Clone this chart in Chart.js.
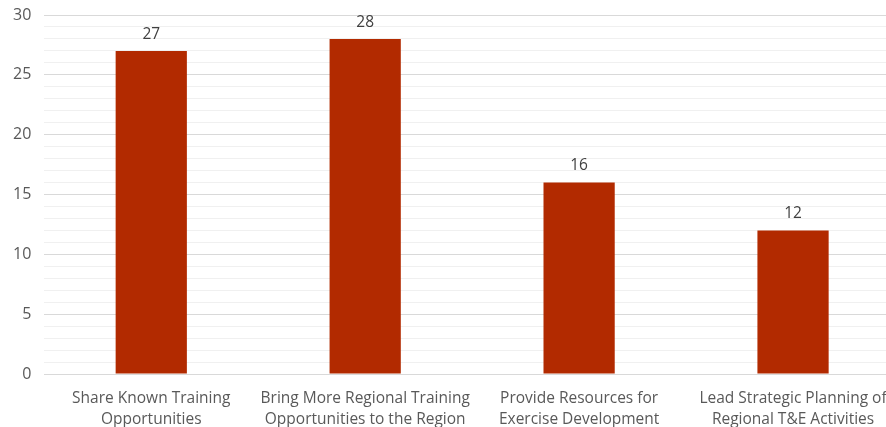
<!DOCTYPE html>
<html>
<head>
<meta charset="utf-8">
<script src="https://cdn.jsdelivr.net/npm/chart.js@4.4.0/dist/chart.umd.min.js"></script>
<style>
  html, body { margin: 0; padding: 0; background: #fff; overflow: hidden; }
  #wrap { position: relative; width: 900px; height: 427px; }
</style>
</head>
<body>
<div id="wrap"><canvas id="chart"></canvas></div>
<script>
// categories (wrapped the way the original wraps them)
const categories = [
  ["Share Known Training", "Opportunities"],
  ["Bring More Regional Training", "Opportunities to the Region"],
  ["Provide Resources for", "Exercise Development"],
  ["Lead Strategic Planning of", "Regional T&E Activities"]
];
const counts = [27, 28, 16, 12];
const yTicks = [0, 5, 10, 15, 20, 25, 30];

const textColor = "#595959";
const barColor = "#b22a00";

// value labels above each bar
const valueLabels = {
  id: "valueLabels",
  afterDatasetsDraw(chart) {
    const ctx = chart.ctx;
    const meta = chart.getDatasetMeta(0);
    ctx.save();
    ctx.font = "15.5px 'Open Sans', sans-serif";
    ctx.fillStyle = "#404040";
    ctx.textAlign = "center";
    ctx.textBaseline = "bottom";
    meta.data.forEach((bar, i) => {
      ctx.fillText(counts[i], bar.x, bar.y - 9);
    });
    ctx.restore();
  }
};

new Chart(document.getElementById("chart"), {
  type: "bar",
  data: {
    labels: categories,
    datasets: [{
      data: counts,
      backgroundColor: barColor,
      categoryPercentage: 1,
      barPercentage: 0.333,
    }],
  },
  options: {
    responsive: true,
    maintainAspectRatio: false,
    animation: false,
    layout: { padding: { top: 15, left: 0, right: 0, bottom: 0 } },
    plugins: { legend: { display: false }, tooltip: { enabled: false } },
    scales: {
      y: {
        min: 0,
        max: 30,
        afterFit: s => { s.paddingTop = 0; s.paddingBottom = 0; },
        ticks: {
          stepSize: 1,
          autoSkip: false,
          color: textColor,
          font: { family: "'Open Sans', sans-serif", size: 16 },
          padding: 13,
          callback: v => yTicks.includes(v) ? v : "",
        },
        grid: {
          drawTicks: false,
          color: c => c.tick.value % 5 === 0 ? "#d9d9d9" : "#f0f0f0",
          lineWidth: 1,
        },
        border: { display: false },
      },
      x: {
        afterFit: s => { s.height = 53; },
        ticks: {
          color: textColor,
          font: { family: "'Open Sans', sans-serif", size: 15.5, lineHeight: 1.3 },
          padding: 7,
          maxRotation: 0,
        },
        grid: { display: false },
        border: { display: false },
      },
    },
  },
  plugins: [valueLabels],
});
</script>
</body>
</html>
